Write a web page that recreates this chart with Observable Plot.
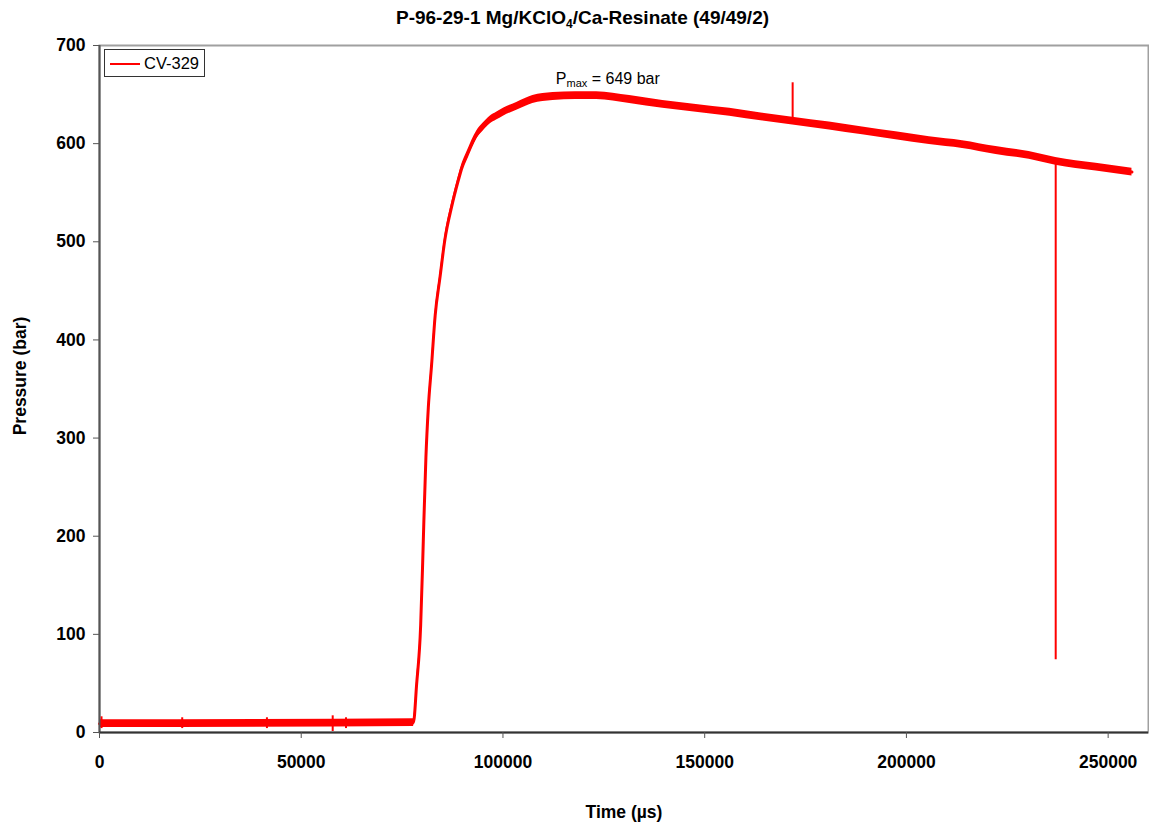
<!DOCTYPE html>
<html>
<head>
<meta charset="utf-8">
<script src="https://cdn.jsdelivr.net/npm/d3@7"></script>
<script src="https://cdn.jsdelivr.net/npm/@observablehq/plot@0.6"></script>
<style>
  body { margin: 0; background: #fff; font-family: "Liberation Sans", Arial, sans-serif; }
  #wrap { position: relative; width: 1149px; height: 828px; }
  #title { height: 36px; line-height: 36px; text-align: center; padding-left: 16px; box-sizing: border-box;
           font-weight: bold; font-size: 19px; color: #000; white-space: nowrap; }
  #title sub { font-size: 12px; vertical-align: -4px; line-height: 0; }
  #legend { position: absolute; left: 104px; top: 49px; width: 101px; height: 28px; box-sizing: border-box;
            border: 1px solid #333; background: #fff; font-size: 16.5px; color: #000; }
  #legend .sw { position: absolute; left: 5px; top: 13px; width: 30px; height: 2px; background: #ff0000; }
  #legend .lb { position: absolute; left: 39px; top: 3px; line-height: 20px; }
</style>
</head>
<body>
<div id="wrap">
  <div id="title">P-96-29-1 Mg/KClO<sub>4</sub>/Ca-Resinate (49/49/2)</div>
  <div id="chart"></div>
  <div id="legend"><div class="sw"></div><div class="lb">CV-329</div></div>
</div>
<script>
// ---- data ----
const seriesName = "CV-329";
const timeUs = [0, 77800, 78600, 79600, 80100, 80400, 80900, 81500, 82300, 83200, 84400, 85600,
  87300, 88900, 89800, 91000, 93500, 95100, 96800, 98400, 100100, 103400, 107400, 112400, 118000, 123200, 131400,
  139600, 147900, 156200, 164400, 171800, 180900, 189100, 197400, 205700, 213900, 222200,
  230400, 237000, 247000, 255900];
const pressureBar = [9, 10, 49, 109, 173, 216, 280, 331, 374, 425, 464, 502,
  536, 562, 575, 587, 609, 617, 624, 628, 632, 638, 645, 648, 649, 649, 645,
  640, 636, 632, 627, 623, 618, 613, 608, 603, 599, 593,
  588, 582, 576, 571];
const noiseBand = 4; // half-width of the noisy trace, bar

// isolated spikes in the recording
const spikeTime = [500, 20500, 41500, 57800, 61100, 171800, 237000];
const spikeLow  = [4, 4, 4, 1, 4, 623, 74];
const spikeHigh = [16, 15, 15, 17, 15, 662, 582];

const xTicks = [0, 50000, 100000, 150000, 200000, 250000];
const yTicks = [0, 100, 200, 300, 400, 500, 600, 700];
const pmaxValue = 649;
const pmaxAnchor = [{t: 113100, p: 666}];

// ---- build tables ----
const trace = timeUs.map((t, i) => ({t, p: pressureBar[i]}));
const spikes = spikeTime.map((t, i) => ({t, lo: spikeLow[i], hi: spikeHigh[i]}));

const red = "#ff0000";
const chart = Plot.plot({
  width: 1149, height: 792,
  marginTop: 9, marginLeft: 99, marginRight: 1, marginBottom: 96,
  style: {fontFamily: "'Liberation Sans', Arial, sans-serif", fontSize: "17.5px", fontWeight: "bold", color: "#000", background: "#fff", overflow: "visible"},
  x: {domain: [0, 260000]},
  y: {domain: [0, 700]},
  marks: [
    Plot.frame({stroke: "#a0a0a0", strokeWidth: 2}),
    Plot.areaY(trace, {x: "t", y1: d => d.p - noiseBand, y2: d => d.p + noiseBand, fill: red, curve: "monotone-x"}),
    Plot.line(trace, {x: "t", y: "p", stroke: red, strokeWidth: 3, curve: "monotone-x"}),
    Plot.ruleX(spikes, {x: "t", y1: "lo", y2: "hi", stroke: red, strokeWidth: 2}),
    Plot.ruleX([0], {stroke: "#555", strokeWidth: 2}),
    Plot.ruleY([0], {stroke: "#333", strokeWidth: 2}),
    Plot.axisX(xTicks, {tickSize: 6, tickPadding: 17, tickFormat: d => String(d), label: null, stroke: "#555"}),
    Plot.axisY(yTicks, {tickSize: 6, tickPadding: 8, tickFormat: d => String(d), label: null, stroke: "#555"}),
    Plot.text(["Time (µs)"], {frameAnchor: "bottom", textAnchor: "middle", lineAnchor: "middle", dy: 80, fontSize: 17.5, fontWeight: "bold"}),
    Plot.text(["Pressure (bar)"], {frameAnchor: "left", textAnchor: "middle", lineAnchor: "middle", rotate: -90, dx: -79, dy: -13, fontSize: 17.5, fontWeight: "bold"}),
    Plot.text(pmaxAnchor, {x: "t", y: "p", text: () => `Pmax = ${pmaxValue} bar`, textAnchor: "start", lineAnchor: "middle", fontSize: 16, fontWeight: "normal"})
  ]
});
document.getElementById("chart").appendChild(chart);

// subscript for P_max
d3.select(chart).selectAll("text").filter(function() { return this.textContent === `Pmax = ${pmaxValue} bar`; }).each(function() {
  const t = d3.select(this);
  t.text(null);
  t.append("tspan").text("P");
  t.append("tspan").attr("font-size", 11).attr("dy", 3).text("max");
  t.append("tspan").attr("dy", -3).text(` = ${pmaxValue} bar`);
});
</script>
</body>
</html>
